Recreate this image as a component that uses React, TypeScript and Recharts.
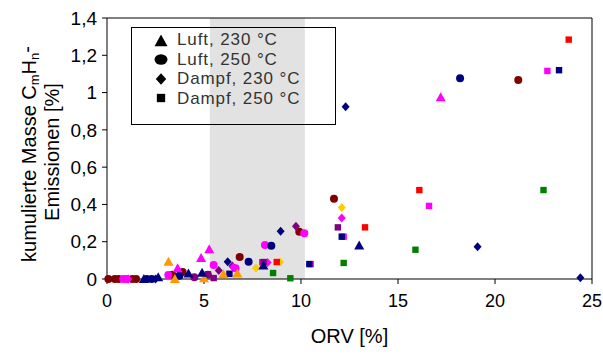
import React from 'react';
import { ScatterChart, Scatter, XAxis, YAxis, ReferenceArea, ReferenceLine } from 'recharts';

type Kind = 'triangle' | 'circle' | 'diamond' | 'square';

// ORV [%] / cumulative mass [%] per colour, grouped by marker kind
const lt230NavyX = [1.9, 2.64, 4.2, 4.9, 8.06, 13.0];
const lt230NavyY = [0, 0.009, 0.03, 0.034, 0.072, 0.18];
const lt230MagentaX = [3.64, 4.85, 5.27, 17.2];
const lt230MagentaY = [0.057, 0.113, 0.16, 0.975];
const lt230OrangeX = [3.17, 3.5, 5.0, 6.0, 6.72];
const lt230OrangeY = [0.092, 0, 0.004, 0.025, 0.03];

const lt250MaroonX = [0.07, 0.4, 0.6, 1.3, 1.5, 3.37, 3.9, 6.84, 9.91, 11.7, 21.2];
const lt250MaroonY = [0, 0, 0, 0, 0, 0.023, 0.037, 0.118, 0.254, 0.43, 1.068];
const lt250MagentaX = [0.84, 1.0, 3.16, 5.5, 6.63, 8.14, 10.17];
const lt250MagentaY = [0, 0, 0.021, 0.075, 0.057, 0.182, 0.245];
const lt250NavyX = [2.05, 2.3, 3.73, 7.3, 8.47, 18.2];
const lt250NavyY = [0, 0, 0.018, 0.093, 0.179, 1.077];
const lt250PurpleX = [4.5, 5.2];
const lt250PurpleY = [0.01, 0.023];

const dp230NavyX = [2.5, 6.22, 8.95, 12.3, 19.1, 24.4];
const dp230NavyY = [0, 0.093, 0.256, 0.924, 0.173, 0.007];
const dp230PurpleX = [5.76, 6.46, 9.74];
const dp230PurpleY = [0.045, 0.07, 0.283];
const dp230MagentaX = [1.1, 6.51, 8.28, 12.1];
const dp230MagentaY = [0, 0.063, 0.088, 0.327];
const dp230GoldX = [7.68, 8.92, 12.1];
const dp230GoldY = [0.059, 0.091, 0.383];

const dp250RedX = [8.75, 13.3, 16.1, 23.8];
const dp250RedY = [0.091, 0.277, 0.477, 1.284];
const dp250MagentaX = [8.0, 10.5, 12.2, 16.6, 22.7];
const dp250MagentaY = [0.09, 0.08, 0.227, 0.392, 1.116];
const dp250NavyX = [6.31, 10.43, 12.1, 23.3];
const dp250NavyY = [0.028, 0.08, 0.227, 1.12];
const dp250PurpleX = [5.2, 5.5, 8.07, 11.9];
const dp250PurpleY = [0.025, 0.005, 0.091, 0.277];
const dp250GreenX = [8.56, 9.45, 12.2, 15.9, 22.5];
const dp250GreenY = [0.032, 0.004, 0.086, 0.157, 0.477];

const xTicks = [0, 5, 10, 15, 20, 25];
const yTicks = [0, 0.2, 0.4, 0.6, 0.8, 1, 1.2, 1.4];

const legendLabels = ['Luft, 230 °C', 'Luft, 250 °C', 'Dampf, 230 °C', 'Dampf, 250 °C'];
const legendKinds: Kind[] = ['triangle', 'circle', 'diamond', 'square'];

const pts = (xs: number[], ys: number[]) => xs.map((x, i) => ({ x, y: ys[i] }));

const series: { kind: Kind; color: string; xs: number[]; ys: number[] }[] = [
  { kind: 'circle', color: '#800000', xs: lt250MaroonX, ys: lt250MaroonY },
  { kind: 'circle', color: '#ff00ff', xs: lt250MagentaX, ys: lt250MagentaY },
  { kind: 'circle', color: '#000080', xs: lt250NavyX, ys: lt250NavyY },
  { kind: 'circle', color: '#800080', xs: lt250PurpleX, ys: lt250PurpleY },
  { kind: 'diamond', color: '#000080', xs: dp230NavyX, ys: dp230NavyY },
  { kind: 'diamond', color: '#800080', xs: dp230PurpleX, ys: dp230PurpleY },
  { kind: 'diamond', color: '#ff00ff', xs: dp230MagentaX, ys: dp230MagentaY },
  { kind: 'diamond', color: '#ffcc00', xs: dp230GoldX, ys: dp230GoldY },
  { kind: 'square', color: '#ff00ff', xs: dp250MagentaX, ys: dp250MagentaY },
  { kind: 'square', color: '#000080', xs: dp250NavyX, ys: dp250NavyY },
  { kind: 'square', color: '#ff0000', xs: dp250RedX, ys: dp250RedY },
  { kind: 'square', color: '#800080', xs: dp250PurpleX, ys: dp250PurpleY },
  { kind: 'square', color: '#008000', xs: dp250GreenX, ys: dp250GreenY },
  { kind: 'triangle', color: '#ff9900', xs: lt230OrangeX, ys: lt230OrangeY },
  { kind: 'triangle', color: '#000080', xs: lt230NavyX, ys: lt230NavyY },
  { kind: 'triangle', color: '#ff00ff', xs: lt230MagentaX, ys: lt230MagentaY },
];

function Marker({ kind, cx, cy, fill, s = 1, wide = 1 }: { kind: Kind; cx: number; cy: number; fill: string; s?: number; wide?: number }) {
  if (kind === 'circle') return <ellipse cx={cx} cy={cy} rx={4 * s * wide} ry={4 * s} fill={fill} />;
  if (kind === 'square') return <rect x={cx - 3.2 * s} y={cy - 3.2 * s} width={6.4 * s} height={6.4 * s} fill={fill} />;
  if (kind === 'diamond')
    return <path d={`M${cx},${cy - 4.5 * s}L${cx + 4 * s},${cy}L${cx},${cy + 4.5 * s}L${cx - 4 * s},${cy}Z`} fill={fill} />;
  return <path d={`M${cx},${cy - 5 * s}L${cx + 5 * s},${cy + 4 * s}L${cx - 5 * s},${cy + 4 * s}Z`} fill={fill} />;
}

const fmt = (v: number) => String(v).replace('.', ',');

const font = 'Liberation Sans, Arial, sans-serif';

function YLabel() {
  return (
    <g fontFamily={font} fontSize={20} fill="#000">
      <text transform="translate(36,154) rotate(-90)" textAnchor="middle">
        kumulierte Masse C
        <tspan fontSize={13} dy={3}>m</tspan>
        <tspan dy={-3}>H</tspan>
        <tspan fontSize={13} dy={3}>n</tspan>
        <tspan dy={-5}>-</tspan>
      </text>
      <text transform="translate(59,152) rotate(-90)" textAnchor="middle">
        Emissionen [%]
      </text>
    </g>
  );
}

export default function App() {
  return (
    <div style={{ position: 'absolute', left: 0, top: 0, width: 603, height: 354, background: '#fff' }}>
      <ScatterChart width={603} height={354} margin={{ top: 18, right: 11, left: 0, bottom: 0 }}>
        <XAxis
          type="number"
          dataKey="x"
          domain={[0, 25]}
          ticks={xTicks}
          height={75}
          tickSize={5}
          tickMargin={10}
          stroke="#000"
          tick={{ fill: '#000', fontSize: 18, fontFamily: font }}
          label={{ value: 'ORV [%]', position: 'insideBottom', offset: 11, fill: '#000', fontSize: 20, fontFamily: font }}
        />
        <YAxis
          type="number"
          dataKey="y"
          domain={[0, 1.4]}
          ticks={yTicks}
          width={107}
          tickSize={5}
          tickMargin={5}
          stroke="#000"
          tickFormatter={fmt}
          tick={{ fill: '#000', fontSize: 19, fontFamily: font }}
          label={{ content: () => <YLabel /> }}
        />
        <ReferenceLine y={1.4} stroke="#000" />
        <ReferenceLine x={25} stroke="#000" />
        {series.map((s, i) => (
          <Scatter
            key={i}
            data={pts(s.xs, s.ys)}
            isAnimationActive={false}
            shape={(p: any) => <Marker kind={s.kind} cx={p.cx} cy={p.cy} fill={s.color} />}
          />
        ))}
        <ReferenceArea x1={5.3} x2={10.2} y1={0} y2={1.4} fill="#a8a8a8" fillOpacity={0.33} stroke="none" />
      </ScatterChart>
      <div
        style={{
          position: 'absolute',
          left: 131,
          top: 27,
          width: 205,
          height: 98,
          border: '1px solid #000',
          boxSizing: 'border-box',
          fontFamily: font,
          fontSize: 17,
          letterSpacing: 0.9,
          color: '#333',
        }}
      >
        <svg width={40} height={96} style={{ position: 'absolute', left: 10, top: 0 }}>
          {legendKinds.map((k, i) => (
            <Marker key={k} kind={k} cx={19} cy={[13, 31.5, 51, 70][i]} fill="#000" s={1.3} wide={1.25} />
          ))}
        </svg>
        {legendLabels.map((t, i) => (
          <div key={t} style={{ position: 'absolute', left: 45, top: [2, 21.5, 41, 60.5][i], lineHeight: '19px' }}>
            {t}
          </div>
        ))}
      </div>
    </div>
  );
}
